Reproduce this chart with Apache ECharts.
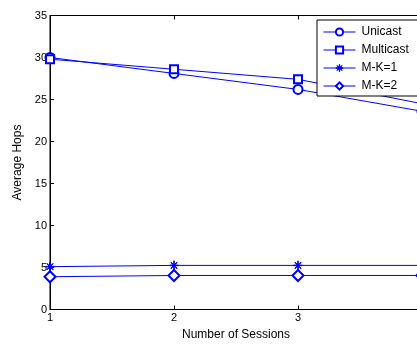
<!DOCTYPE html>
<html>
<head>
<meta charset="utf-8">
<script src="https://cdn.jsdelivr.net/npm/echarts@6/dist/echarts.min.js"></script>
<style>
  html, body { margin: 0; padding: 0; background: #fff; }
  #chart { width: 417px; height: 344px; }
</style>
</head>
<body>
<div id="chart"></div>
<script>
// data
const sessions = [1, 2, 3, 4]
const unicast = [30.0, 28.1, 26.2, 23.6]
const multicast = [29.8, 28.6, 27.4, 24.5]
const mk1 = [5.1, 5.25, 5.25, 5.25]
const mk2 = [3.9, 4.05, 4.05, 4.05]
const yTicks = [0, 5, 10, 15, 20, 25, 30, 35]

const font = 'Liberation Sans, Arial, Helvetica, sans-serif'
const blue = '#0000ff'
const starPath = 'path://M4.7 0L5.3 0L5.3 10L4.7 10Z M0 4.7L10 4.7L10 5.3L0 5.3Z M1.4 1.8L1.8 1.4L8.6 8.2L8.2 8.6Z M8.2 1.4L8.6 1.8L1.8 8.6L1.4 8.2Z'

const chart = echarts.init(document.getElementById('chart'), null, { renderer: 'canvas' })

function mkSeries(name, values, symbol, size) {
  return {
    name: name,
    type: 'line',
    data: sessions.map((x, i) => [x, values[i]]),
    symbol: symbol,
    symbolSize: size,
    showAllSymbol: true,
    lineStyle: { color: blue, width: 1 },
    itemStyle: { color: blue, borderColor: blue, borderWidth: 1 },
    emphasis: { disabled: true },
    animation: false
  }
}

const axisLine = { show: true, lineStyle: { color: '#000', width: 1 } }
const axisTick = { show: true, inside: true, length: 4, lineStyle: { color: '#000' } }

chart.setOption({
  backgroundColor: '#fff',
  textStyle: { fontFamily: font },
  grid: {
    left: 50,
    top: 15.5,
    right: -5,
    bottom: 34.5,
    outerBoundsMode: 'none',
    containLabel: false,
    show: true,
    borderColor: '#000',
    borderWidth: 1,
    backgroundColor: 'transparent'
  },
  legend: {
    orient: 'vertical',
    left: 317,
    top: 20,
    width: 100,
    padding: [6, 10, 4, 6],
    itemWidth: 32,
    itemHeight: 9,
    itemGap: 6,
    backgroundColor: '#fff',
    borderColor: '#000',
    borderWidth: 1,
    borderRadius: 0,
    lineStyle: { width: 1 },
    itemStyle: { borderWidth: 1 },
    textStyle: { fontFamily: font, fontSize: 12, color: '#000', padding: [0, 0, 0, 1] },
    data: ['Unicast', 'Multicast', 'M-K=1', 'M-K=2']
  },
  xAxis: [{
    type: 'value',
    min: 1,
    max: 4,
    interval: 1,
    name: 'Number of Sessions',
    nameLocation: 'middle',
    nameGap: 19,
    nameTextStyle: { fontFamily: font, fontSize: 12, color: '#000', verticalAlign: 'top' },
    axisLine: axisLine,
    axisTick: axisTick,
    axisLabel: { color: '#000', fontSize: 11, fontFamily: font, margin: 3 },
    splitLine: { show: false }
  }, {
    type: 'value',
    position: 'top',
    min: 1,
    max: 4,
    interval: 1,
    axisLine: axisLine,
    axisTick: axisTick,
    axisLabel: { show: false },
    splitLine: { show: false }
  }],
  yAxis: {
    type: 'value',
    min: yTicks[0],
    max: yTicks[yTicks.length - 1],
    interval: 5,
    name: 'Average Hops',
    nameLocation: 'middle',
    nameGap: 15,
    nameRotate: 90,
    nameTextStyle: { fontFamily: font, fontSize: 12, color: '#000' },
    axisLine: axisLine,
    axisTick: axisTick,
    axisLabel: { color: '#000', fontSize: 11, fontFamily: font, margin: 3 },
    splitLine: { show: false }
  },
  series: [
    mkSeries('Unicast', unicast, 'emptyCircle', 9),
    mkSeries('Multicast', multicast, 'emptyRect', 8),
    mkSeries('M-K=1', mk1, starPath, 9),
    mkSeries('M-K=2', mk2, 'emptyDiamond', 11)
  ]
})
</script>
</body>
</html>
